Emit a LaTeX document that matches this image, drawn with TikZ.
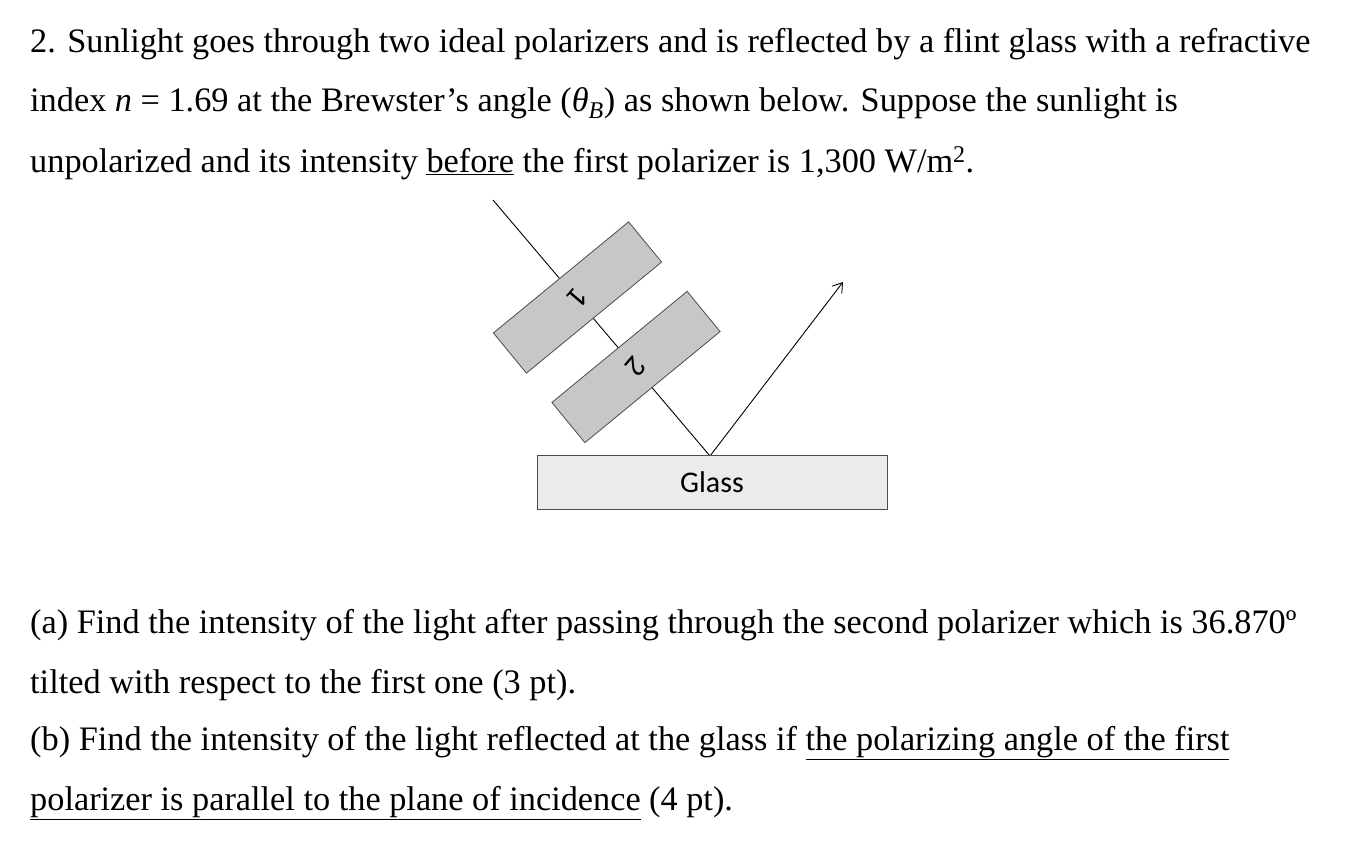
\documentclass[tikz,border=0pt]{standalone}
\usepackage{fontspec}
\setmainfont{Liberation Serif}
\newfontfamily\calib{Carlito}
\usetikzlibrary{arrows.meta}
\begin{document}
\begin{tikzpicture}[x=1pt,y=-1pt,
  txt/.style={anchor=base west,inner sep=0pt,font=\fontsize{34.3}{40}\selectfont},
  pol/.style={draw=black!70,fill=black!22,line width=0.8pt,minimum width=175,minimum height=52,rotate=39.4,inner sep=0pt},
  ray/.style={line width=0.9pt}]
\useasboundingbox (0,0) rectangle (1363,849);
\node[txt] (l1) at (30,52) {2. Sunlight goes through two ideal polarizers and is reflected by a flint glass with a refractive};
\node[txt] (l2) at (30,111) {index \textit{n} = 1.69 at the Brewster's angle (\textit{θ}\textsubscript{\textit{B}}) as shown below. Suppose the sunlight is};
\node[txt] (l3) at (30,172) {unpolarized and its intensity \underline{before} the first polarizer is 1,300 W/m\textsuperscript{2}.};
\node[txt] (a1) at (30,633) {(a) Find the intensity of the light after passing through the second polarizer which is 36.870º};
\node[txt] (a2) at (30,693) {tilted with respect to the first one (3 pt).};
\node[txt] (b1) at (30,750) {(b) Find the intensity of the light reflected at the glass if \underline{the polarizing angle of the first}};
\node[txt] (b2) at (30,810) {\underline{polarizer is parallel to the plane of incidence} (4 pt).};
\coordinate (src) at (493,200);
\coordinate (hit) at (710,456);
\coordinate (tip) at (843,282);
\draw[ray] (src) -- (hit);
\draw[ray,-{Straight Barb[length=9pt,width=12pt]}] (hit) -- (tip);
\node[pol] (p1) at (577.5,297.5) {\rotatebox{-170}{\fontsize{30}{34}\calib 1}};
\node[pol] (p2) at (636,367) {\rotatebox{-170}{\fontsize{30}{34}\calib 2}};
\node[draw=black!70,fill=black!8,line width=0.8pt,minimum width=350,minimum height=54,inner sep=0pt,font=\fontsize{30}{34}\calib] (glass) at (712,482) {Glass};
\end{tikzpicture}
\end{document}
